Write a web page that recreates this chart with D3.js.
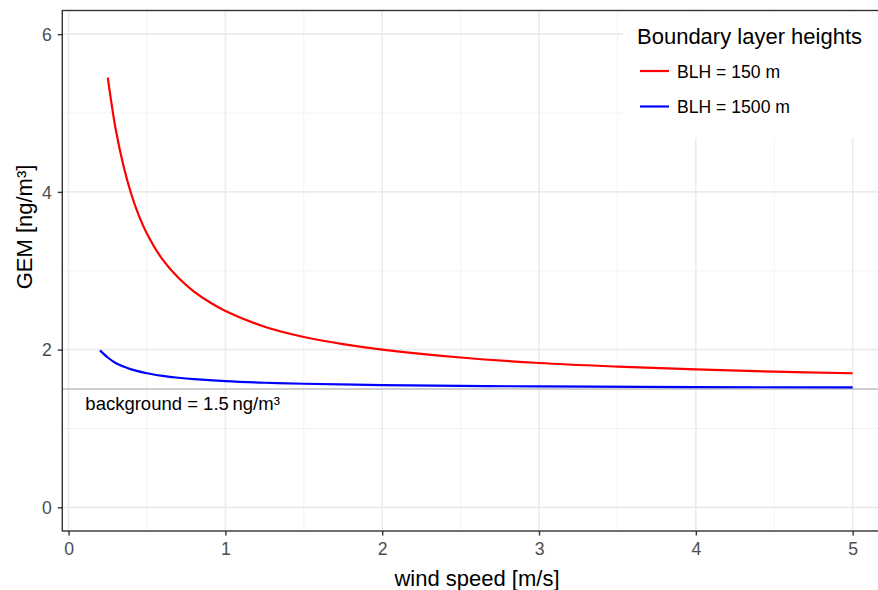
<!DOCTYPE html>
<html>
<head>
<meta charset="utf-8">
<script src="https://cdn.jsdelivr.net/npm/d3@7"></script>
<style>
  body { margin: 0; background: #fff; }
  svg { display: block; font-family: "Liberation Sans", Arial, Helvetica, sans-serif; }
</style>
</head>
<body>
<svg width="878" height="590"></svg>
<script>
// wind speed [m/s] and GEM [ng/m3]
const windRed = [0.25, 0.3, 0.35, 0.4, 0.45, 0.5, 0.6, 0.7, 0.8, 0.9, 1.0, 1.25, 1.5, 1.75, 2.0, 2.5, 3.0, 3.5, 4.0, 4.5, 5.0];
const gemRed  = [5.45, 4.80, 4.33, 3.97, 3.69, 3.47, 3.14, 2.91, 2.735, 2.60, 2.49, 2.29, 2.16, 2.07, 2.00, 1.90, 1.83, 1.785, 1.75, 1.72, 1.70];
const windBlue = [0.2, 0.25, 0.3, 0.35, 0.4, 0.5, 0.6, 0.7, 0.8, 1.0, 1.25, 1.5, 2.0, 2.5, 3.0, 4.0, 5.0];
const gemBlue  = [1.99, 1.90, 1.83, 1.785, 1.75, 1.70, 1.667, 1.643, 1.625, 1.60, 1.58, 1.567, 1.55, 1.54, 1.533, 1.525, 1.52];
const seriesNames = ['BLH = 150 m', 'BLH = 1500 m'];
const seriesColors = ['#ff0000', '#0000ff'];
const background = 1.5;
const xTicks = [0, 1, 2, 3, 4, 5];
const xMinor = [0.5, 1.5, 2.5, 3.5, 4.5];
const yTicks = [0, 2, 4, 6];
const yMinor = [1, 3, 5];

const panelLeft = 62.3, panelRight = 890.3, panelTop = 10.5, panelBottom = 531;
const tickSize = 17.6, titleSize = 22;

var svg = d3.select("svg");

var x = d3.scaleLinear().domain([-0.04, 5.24]).range([panelLeft, panelRight]);
var y = d3.scaleLinear().domain([-0.3, 6.3]).range([panelBottom, panelTop]);

function renderGrid(g){
  g.selectAll(".xminor").data(xMinor).enter().append("line")
    .attr("x1", d => x(d)).attr("x2", d => x(d))
    .attr("y1", panelTop).attr("y2", panelBottom)
    .attr("stroke", "#f2f2f2").attr("stroke-width", 1);
  g.selectAll(".yminor").data(yMinor).enter().append("line")
    .attr("y1", d => y(d)).attr("y2", d => y(d))
    .attr("x1", panelLeft).attr("x2", panelRight)
    .attr("stroke", "#f2f2f2").attr("stroke-width", 1);
  g.selectAll(".xmajor").data(xTicks).enter().append("line")
    .attr("x1", d => x(d)).attr("x2", d => x(d))
    .attr("y1", panelTop).attr("y2", panelBottom)
    .attr("stroke", "#ebebeb").attr("stroke-width", 1.6);
  g.selectAll(".ymajor").data(yTicks).enter().append("line")
    .attr("y1", d => y(d)).attr("y2", d => y(d))
    .attr("x1", panelLeft).attr("x2", panelRight)
    .attr("stroke", "#ebebeb").attr("stroke-width", 1.6);
}

function renderAxes(){
  var xAxis = d3.axisBottom(x).tickValues(xTicks).tickSize(4.5).tickPadding(6).tickFormat(d3.format("d"));
  var gx = svg.append("g").attr("transform", "translate(0," + panelBottom + ")").call(xAxis);
  gx.select(".domain").remove();
  gx.selectAll(".tick line").attr("stroke", "#333").attr("stroke-width", 1.4);
  gx.selectAll(".tick text").attr("fill", "#4d4d4d").style("font-size", tickSize + "px")
    .attr("font-family", null).attr("dy", null).attr("y", 24);

  var yAxis = d3.axisLeft(y).tickValues(yTicks).tickSize(4.5).tickPadding(6).tickFormat(d3.format("d"));
  var gy = svg.append("g").attr("transform", "translate(" + panelLeft + ",0)").call(yAxis);
  gy.select(".domain").remove();
  gy.selectAll(".tick line").attr("stroke", "#333").attr("stroke-width", 1.4);
  gy.selectAll(".tick text").attr("fill", "#4d4d4d").style("font-size", tickSize + "px")
    .attr("font-family", null).attr("dy", "0.36em").attr("x", -10.5);

  svg.append("text")
     .attr("x", 477).attr("y", 586)
     .attr("text-anchor", "middle")
     .style("font-size", titleSize + "px")
     .text("wind speed [m/s]");
  svg.append("text")
     .attr("transform", "translate(32,227) rotate(-90)")
     .attr("text-anchor", "middle")
     .style("font-size", titleSize + "px")
     .text("GEM [ng/m\u00b3]");
}

function renderLines(g){
  var line = d3.line().x(d => x(d[0])).y(d => y(d[1])).curve(d3.curveCatmullRom.alpha(0.5));
  var data = [d3.zip(windRed, gemRed), d3.zip(windBlue, gemBlue)];
  g.selectAll(".series").data(data).enter().append("path")
    .attr("d", line)
    .attr("fill", "none")
    .attr("stroke", (d, i) => seriesColors[i])
    .attr("stroke-width", 2.2)
    .attr("stroke-linejoin", "round");
}

function renderLegend(){
  var lg = svg.append("g").attr("transform", "translate(623,12)");
  lg.append("rect").attr("width", 270).attr("height", 126).attr("fill", "#fff");
  lg.append("text").attr("x", 14).attr("y", 31.5)
    .style("font-size", titleSize + "px").text("Boundary layer heights");
  var item = lg.selectAll(".item").data(seriesNames).enter().append("g")
    .attr("transform", (d, i) => "translate(0," + (59 + i * 35.5) + ")");
  item.append("line").attr("x1", 17).attr("x2", 46)
    .attr("stroke", (d, i) => seriesColors[i]).attr("stroke-width", 2.2);
  item.append("text").attr("x", 54).attr("y", 6.5)
    .style("font-size", tickSize + "px").text(d => d);
}

var clipId = "panel-clip";
svg.append("clipPath").attr("id", clipId).append("rect")
   .attr("x", panelLeft).attr("y", panelTop)
   .attr("width", panelRight - panelLeft).attr("height", panelBottom - panelTop);

var panel = svg.append("g").attr("clip-path", "url(#" + clipId + ")");
renderGrid(panel);

panel.append("line")
     .attr("x1", panelLeft).attr("x2", panelRight)
     .attr("y1", y(background)).attr("y2", y(background))
     .attr("stroke", "#bebebe").attr("stroke-width", 1.6);
panel.append("text")
     .attr("x", x(0.107)).attr("y", y(background) + 21)
     .style("font-size", "18.5px")
     .text("background = 1.5\u2009ng/m\u00b3");

renderLines(panel);

svg.append("rect")
   .attr("x", panelLeft).attr("y", panelTop)
   .attr("width", panelRight - panelLeft).attr("height", panelBottom - panelTop)
   .attr("fill", "none").attr("stroke", "#333").attr("stroke-width", 1.4);

renderAxes();
renderLegend();
</script>
</body>
</html>
